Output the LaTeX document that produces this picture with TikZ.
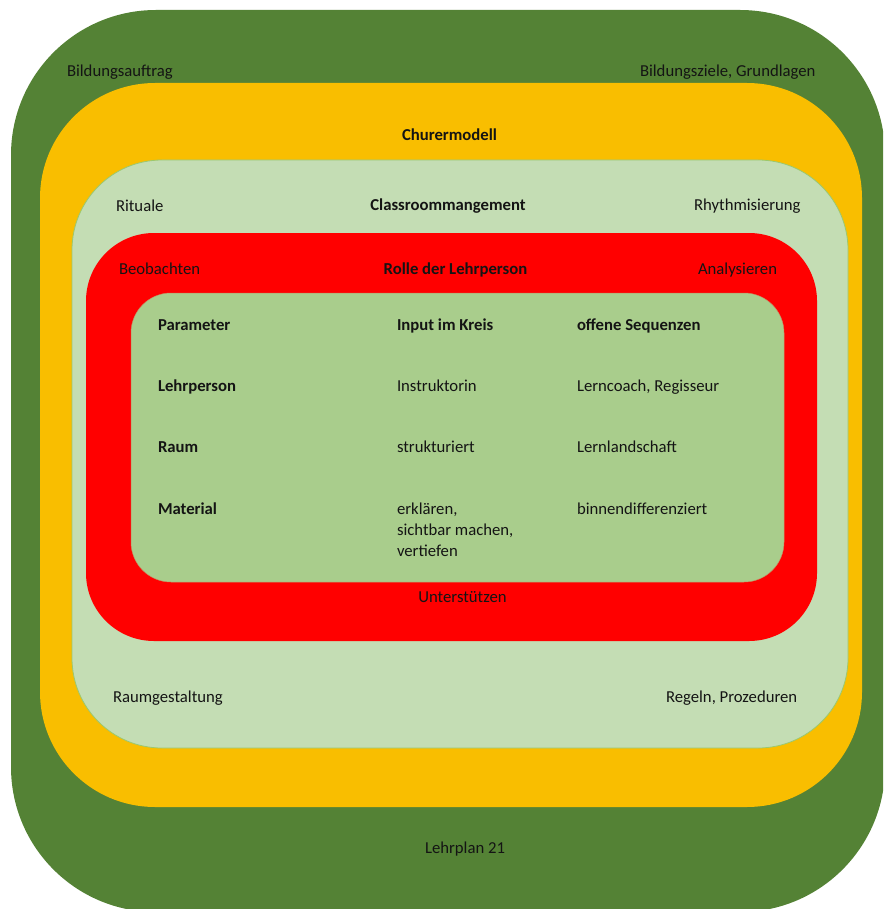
\documentclass[tikz,border=0pt]{standalone}
\usepackage{fontspec}
\setmainfont{Carlito}
\definecolor{outergreen}{RGB}{84,130,53}
\definecolor{gold}{RGB}{249,190,0}
\definecolor{lightgreen}{RGB}{196,221,180}
\definecolor{lgedge}{RGB}{155,200,110}
\definecolor{redband}{RGB}{255,0,0}
\definecolor{innergreen}{RGB}{169,205,140}
\definecolor{txt}{RGB}{20,20,20}
\begin{document}
\begin{tikzpicture}[x=1pt,y=-1pt,
  lbl/.style={inner sep=0pt,outer sep=0pt,text=txt,font=\fontsize{16.7}{21}\selectfont},
  lc/.style={lbl,anchor=base},
  ll/.style={lbl,anchor=base west},
  bl/.style={ll,font=\fontsize{16.7}{21}\selectfont\bfseries},
  bc/.style={lc,font=\fontsize{16.7}{21}\selectfont\bfseries}]
\useasboundingbox (0,0) rectangle (883,909);
\begin{scope}
\clip (0,0) rectangle (883,909);
\fill[outergreen,rounded corners=145pt] (11,10) rectangle (885,912);
\fill[gold,rounded corners=115pt] (40,83) rectangle (862,807);
\filldraw[fill=lightgreen,draw=lgedge,line width=0.8pt,rounded corners=90pt] (72,160) rectangle (848,748);
\fill[redband,rounded corners=68pt] (86,233) rectangle (817,641);
\filldraw[fill=innergreen,draw=innergreen!70!red,line width=0.5pt,rounded corners=40pt] (131,293) rectangle (784,582);
\end{scope}
% outer ring
\node[ll] (bauftrag) at (67,77) {Bildungsauftrag};
\node[ll] (bziele) at (640,77) {Bildungsziele, Grundlagen};
\node[lc] (lp21) at (465,853) {Lehrplan 21};
% gold ring
\node[bc] (churer) at (449.5,141) {Churermodell};
% light green ring
\node[ll] (rituale) at (116,212) {Rituale};
\node[bc] (classroom) at (448,211) {Classroommangement};
\node[ll] (rhythm) at (694,211) {Rhythmisierung};
\node[ll] (raumgest) at (113,702) {Raumgestaltung};
\node[ll] (regeln) at (666,702) {Regeln, Prozeduren};
% red ring
\node[ll] (beob) at (119,274) {Beobachten};
\node[bc] (rolle) at (455.5,274) {Rolle der Lehrperson};
\node[ll] (analys) at (698,274) {Analysieren};
\node[lc] (unterst) at (462.5,602) {Unterstützen};
% inner table
\node[bl] (param) at (158,330) {Parameter};
\node[bl] (input) at (397,330) {Input im Kreis};
\node[bl] (offen) at (577,330) {offene Sequenzen};
\node[bl] (lehrp) at (158,391) {Lehrperson};
\node[ll] (instr) at (397,391) {Instruktorin};
\node[ll] (coach) at (577,391) {Lerncoach, Regisseur};
\node[bl] (raum) at (158,452) {Raum};
\node[ll] (strukt) at (397,452) {strukturiert};
\node[ll] (landsch) at (577,452) {Lernlandschaft};
\node[bl] (material) at (158,514) {Material};
\node[ll] (erkl) at (397,514) {\begin{tabular}[t]{@{}l@{}}erklären,\\sichtbar machen,\\vertiefen\end{tabular}};
\node[ll] (binnen) at (577,514) {binnendifferenziert};
\end{tikzpicture}
\end{document}
